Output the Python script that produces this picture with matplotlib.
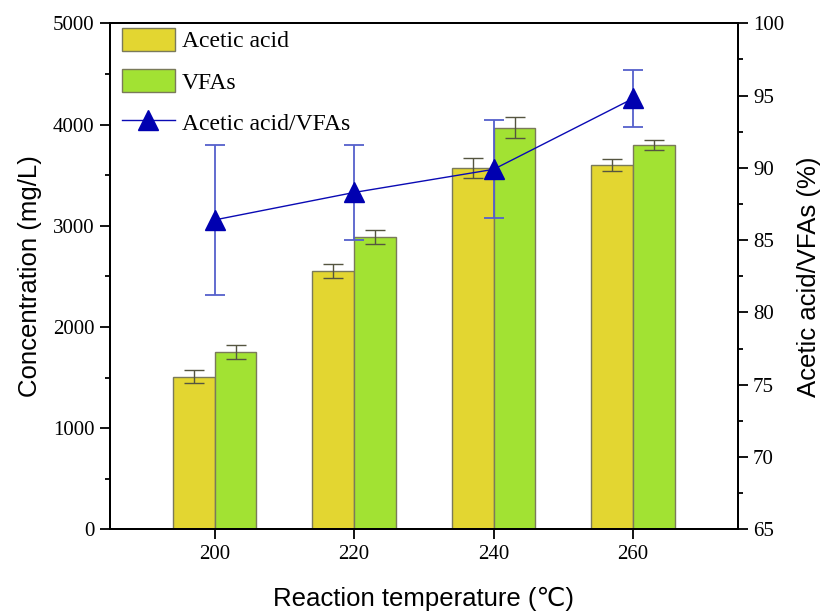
import matplotlib
matplotlib.use("Agg")
import matplotlib.pyplot as plt
import numpy as np

temps = [200, 220, 240, 260]
acetic = [1510, 2550, 3570, 3600]
acetic_err = [65, 70, 100, 55]
vfas = [1750, 2890, 3970, 3800]
vfas_err = [70, 70, 100, 50]
ratio = [86.4, 88.3, 89.9, 94.8]
ratio_err = [5.2, 3.3, 3.4, 1.95]

serif = ['Liberation Serif', 'DejaVu Serif']
sans = ['Liberation Sans', 'DejaVu Sans']

plt.rcParams['font.family'] = serif
plt.rcParams['axes.linewidth'] = 1.4

fig = plt.figure(figsize=(8.22, 6.12), dpi=100)
ax = fig.add_axes([0.1338, 0.1351, 0.7637, 0.8268])
ax2 = ax.twinx()

yellow = '#E3D631'
green = '#A2E233'
edge = '#7a7a5a'
errc = '#555540'
blue = '#0a0ab4'
blue_err = '#5560cc'

w = 6
x = np.array(temps, dtype=float)
b1 = ax.bar(x - w / 2, acetic, width=w, color=yellow, edgecolor=edge, linewidth=1.0,
            label='Acetic acid')
b2 = ax.bar(x + w / 2, vfas, width=w, color=green, edgecolor=edge, linewidth=1.0,
            label='VFAs')
ax.errorbar(x - w / 2, acetic, yerr=acetic_err, fmt='none', ecolor=errc, elinewidth=1.0,
            capsize=7, capthick=1.0)
ax.errorbar(x + w / 2, vfas, yerr=vfas_err, fmt='none', ecolor=errc, elinewidth=1.0,
            capsize=7, capthick=1.0)

ax2.errorbar(x, ratio, yerr=ratio_err, fmt='none', ecolor=blue_err, elinewidth=1.3,
             capsize=7, capthick=1.3, zorder=3)
ln, = ax2.plot(x, ratio, color=blue, lw=1.0, marker='^', ms=14, mfc='#0000b0',
               mec='#0000b0', zorder=4, label='Acetic acid/VFAs')

ax.set_xlim(185, 275)
ax.set_ylim(0, 5000)
ax2.set_ylim(65, 100)
ax.set_xticks(temps)
ax.set_yticks(np.arange(0, 5001, 1000))
ax.set_yticks(np.arange(500, 5000, 1000), minor=True)
ax2.set_yticks(np.arange(65, 100.1, 5))
ax2.set_yticks(np.arange(67.5, 100, 5), minor=True)

for a in (ax, ax2):
    a.tick_params(axis='both', which='major', direction='out', length=7, width=1.3,
                  labelsize=15, pad=4)
    a.tick_params(axis='both', which='minor', direction='out', length=3.5, width=1.3)
ax.tick_params(axis='x', which='minor', bottom=False)
ax.tick_params(top=False)

ax.set_xlabel('Reaction temperature (℃)', fontsize=18.5, family=sans, labelpad=17)
ax.set_ylabel('Concentration (mg/L)', fontsize=18.5, family=sans, labelpad=8)
ax2.set_ylabel('Acetic acid/VFAs (%)', fontsize=18.5, family=sans, labelpad=9)

leg = ax2.legend([b1, b2, ln], ['Acetic acid', 'VFAs', 'Acetic acid/VFAs'],
                 loc='upper left', bbox_to_anchor=(0.0, 1.014), frameon=False,
                 fontsize=17, handlelength=2.25, handleheight=1.1,
                 labelspacing=0.72, handletextpad=0.3, borderaxespad=0.1)

fig.savefig('out.png', dpi=100)
